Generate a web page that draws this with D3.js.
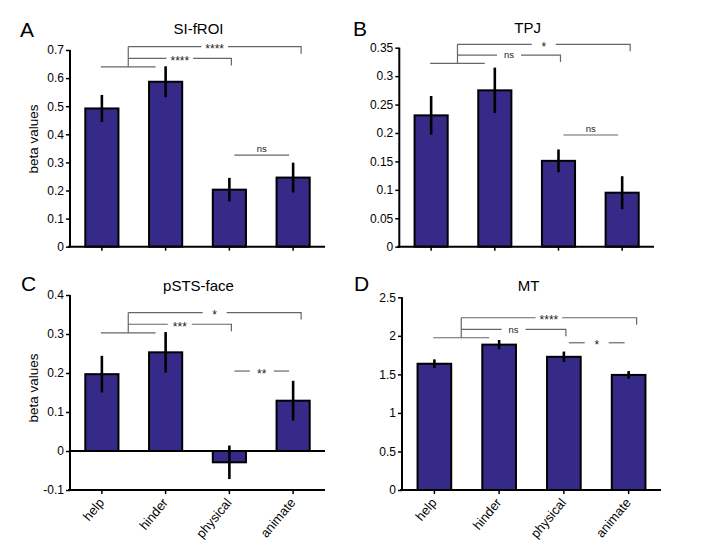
<!DOCTYPE html>
<html>
<head>
<meta charset="utf-8">
<script src="https://cdn.jsdelivr.net/npm/d3@7"></script>
<style>
  html, body { margin: 0; padding: 0; background: #fff; }
  svg { display: block; font-family: "Liberation Sans", Arial, Helvetica, sans-serif; }
</style>
</head>
<body>
<svg id="chart" width="702" height="551"></svg>
<script>
// ---------- data ----------
const categories = ["help", "hinder", "physical", "animate"];

const siValues = [0.492, 0.587, 0.203, 0.246];
const siErrors = [0.048, 0.055, 0.042, 0.053];
const siTicks = [0, 0.1, 0.2, 0.3, 0.4, 0.5, 0.6, 0.7];
const siSig = ["****", "****", "ns"];

const tpjValues = [0.231, 0.275, 0.151, 0.095];
const tpjErrors = [0.034, 0.040, 0.020, 0.029];
const tpjTicks = [0, 0.05, 0.1, 0.15, 0.2, 0.25, 0.3, 0.35];
const tpjSig = ["*", "ns", "ns"];

const pstsValues = [0.197, 0.253, -0.029, 0.129];
const pstsErrors = [0.047, 0.052, 0.043, 0.051];
const pstsTicks = [-0.1, 0, 0.1, 0.2, 0.3, 0.4];
const pstsSig = ["*", "***", "**"];

const mtValues = [1.638, 1.886, 1.728, 1.493];
const mtErrors = [0.057, 0.060, 0.068, 0.050];
const mtTicks = [0, 0.5, 1, 1.5, 2, 2.5];
const mtSig = ["****", "ns", "*"];

// ---------- layout ----------
const panels = [
  { letter: "A", title: "SI-fROI", values: siValues, errors: siErrors, ticks: siTicks, sig: siSig,
    left: 70, right: 325, top: 50, bottom: 246.7, letterPos: [20, 37], titleY: 34,
    ylabel: 139, xlabels: false,
    lev: { pair: 0.64, top: 0.712, second: 0.670, third: 0.326 }, thirdInline: false },
  { letter: "B", title: "TPJ", values: tpjValues, errors: tpjErrors, ticks: tpjTicks, sig: tpjSig,
    left: 399.3, right: 654, top: 47.7, bottom: 246.7, letterPos: [353, 36], titleY: 33,
    ylabel: null, xlabels: false,
    lev: { pair: 0.3225, top: 0.356, second: 0.337, third: 0.1965 }, thirdInline: false },
  { letter: "C", title: "pSTS-face", values: pstsValues, errors: pstsErrors, ticks: pstsTicks, sig: pstsSig,
    left: 70, right: 325, top: 295, bottom: 490, letterPos: [21, 291], titleY: 291,
    ylabel: 388, xlabels: true,
    lev: { pair: 0.303, top: 0.355, second: 0.325, third: 0.205 }, thirdInline: true },
  { letter: "D", title: "MT", values: mtValues, errors: mtErrors, ticks: mtTicks, sig: mtSig,
    left: 402, right: 661, top: 297.3, bottom: 490, letterPos: [354, 291], titleY: 291,
    ylabel: null, xlabels: true,
    lev: { pair: 1.975, top: 2.235, second: 2.084, third: 1.91 }, thirdInline: true }
];

const BAR = "#352a87";
const BRK = "#666666";
const svg = d3.select("#chart");
const fmt = d => String(+d.toFixed(2));

panels.forEach(p => {
  const g = svg.append("g");
  const x = d3.scaleBand().domain(categories).range([p.left, p.right])
    .paddingInner(0.48).paddingOuter(0.24);
  const ext = d3.extent(p.ticks);
  const y = d3.scaleLinear().domain(ext).range([p.bottom, p.top]);
  const cx = c => x(c) + x.bandwidth() / 2;

  // letter + title
  g.append("text").attr("x", p.letterPos[0]).attr("y", p.letterPos[1])
    .attr("font-size", 21).text(p.letter);
  g.append("text").attr("x", (p.left + p.right) / 2 + (p.letter === "D" ? -3 : 1)).attr("y", p.titleY)
    .attr("text-anchor", "middle").attr("font-size", 15).text(p.title);

  // bars
  g.selectAll("rect.bar").data(p.values).enter().append("rect")
    .attr("x", (d, i) => x(categories[i]))
    .attr("width", x.bandwidth())
    .attr("y", d => Math.min(y(d), y(0)))
    .attr("height", d => Math.abs(y(d) - y(0)))
    .attr("fill", BAR).attr("stroke", "#000").attr("stroke-width", 2);

  // error bars
  g.selectAll("line.err").data(p.values).enter().append("line")
    .attr("x1", (d, i) => cx(categories[i])).attr("x2", (d, i) => cx(categories[i]))
    .attr("y1", (d, i) => y(d + p.errors[i])).attr("y2", (d, i) => y(d - p.errors[i]))
    .attr("stroke", "#000").attr("stroke-width", 2.6);

  // y axis
  const yAxis = d3.axisLeft(y).tickValues(p.ticks).tickFormat(fmt).tickSize(4).tickPadding(2);
  const ya = g.append("g").attr("transform", `translate(${p.left},0)`).call(yAxis);
  ya.select(".domain").attr("stroke", "#000").attr("stroke-width", 2).attr("d", `M0,${p.top}V${p.bottom + 1}`);
  ya.selectAll(".tick line").attr("stroke", "#000").attr("stroke-width", 1.5);
  ya.selectAll(".tick text").attr("font-size", 12).attr("fill", "#000")
    .attr("font-family", "Liberation Sans, Arial, sans-serif");

  // x axis (bottom)
  const xAxis = d3.axisBottom(x).tickSize(4).tickFormat("");
  const xa = g.append("g").attr("transform", `translate(0,${p.bottom})`).call(xAxis);
  xa.select(".domain").attr("stroke", "#000").attr("stroke-width", 2)
    .attr("d", `M${p.left - 2},0H${p.right}`);
  xa.selectAll(".tick line").attr("stroke", "#000").attr("stroke-width", 1.5);

  // zero line if needed
  if (ext[0] < 0) {
    g.append("line").attr("x1", p.left).attr("x2", p.right)
      .attr("y1", y(0)).attr("y2", y(0)).attr("stroke", "#000").attr("stroke-width", 2);
  }

  // category labels
  if (p.xlabels) {
    categories.forEach(c => {
      g.append("text")
        .attr("transform", `translate(${cx(c) + 3},${p.bottom + 13}) rotate(-50)`)
        .attr("text-anchor", "end")
        .attr("font-size", 13).text(c);
    });
  }

  // y label
  if (p.ylabel !== null) {
    g.append("text").attr("transform", `translate(38,${p.ylabel}) rotate(-90)`)
      .attr("text-anchor", "middle").attr("font-size", 13.5).text("beta values");
  }

  // significance brackets
  const bk = g.append("g").attr("stroke", BRK).attr("stroke-width", 1.2).attr("fill", "none");
  const pairX1 = cx(categories[0]) - 1;
  const pairX2 = cx(categories[1]) - 10;
  const vx = (pairX1 + pairX2) / 2;
  const yPair = y(p.lev.pair), yTop = y(p.lev.top), ySec = y(p.lev.second), yThird = y(p.lev.third);
  bk.append("line").attr("x1", pairX1).attr("x2", pairX2).attr("y1", yPair).attr("y2", yPair);
  bk.append("line").attr("x1", vx).attr("x2", vx).attr("y1", yPair).attr("y2", yTop);

  function inlineLine(x1, x2, yy, label, drop) {
    const isStar = label.indexOf("*") >= 0;
    const t = g.append("text").attr("x", (x1 + x2) / 2).attr("y", yy)
      .attr("text-anchor", "middle")
      .attr("font-size", isStar ? 12 : 9.5)
      .attr("dy", isStar ? "0.55em" : "0.35em")
      .attr("fill", "#222").text(label);
    const w = t.node().getComputedTextLength();
    const gap = Math.max(w + 8, 24);
    const m = (x1 + x2) / 2;
    bk.append("line").attr("x1", x1).attr("x2", m - gap / 2).attr("y1", yy).attr("y2", yy);
    let path = `M${m + gap / 2},${yy}H${x2}`;
    if (drop) path += `V${yy + drop}`;
    bk.append("path").attr("d", path);
  }
  const topEnd = cx(categories[3]) + 8;
  const secEnd = cx(categories[2]) + 2;
  inlineLine(vx, topEnd, yTop, p.sig[0], 7);
  inlineLine(vx, secEnd, ySec, p.sig[1], 7);

  const tx1 = cx(categories[2]) + 5, tx2 = cx(categories[3]) - 4;
  if (p.thirdInline) {
    inlineLine(tx1, tx2, yThird, p.sig[2], 0);
  } else {
    bk.append("line").attr("x1", tx1).attr("x2", tx2).attr("y1", yThird).attr("y2", yThird);
    g.append("text").attr("x", (tx1 + tx2) / 2).attr("y", yThird - 3)
      .attr("text-anchor", "middle").attr("font-size", 9.5).attr("fill", "#222").text(p.sig[2]);
  }
});
</script>
</body>
</html>
